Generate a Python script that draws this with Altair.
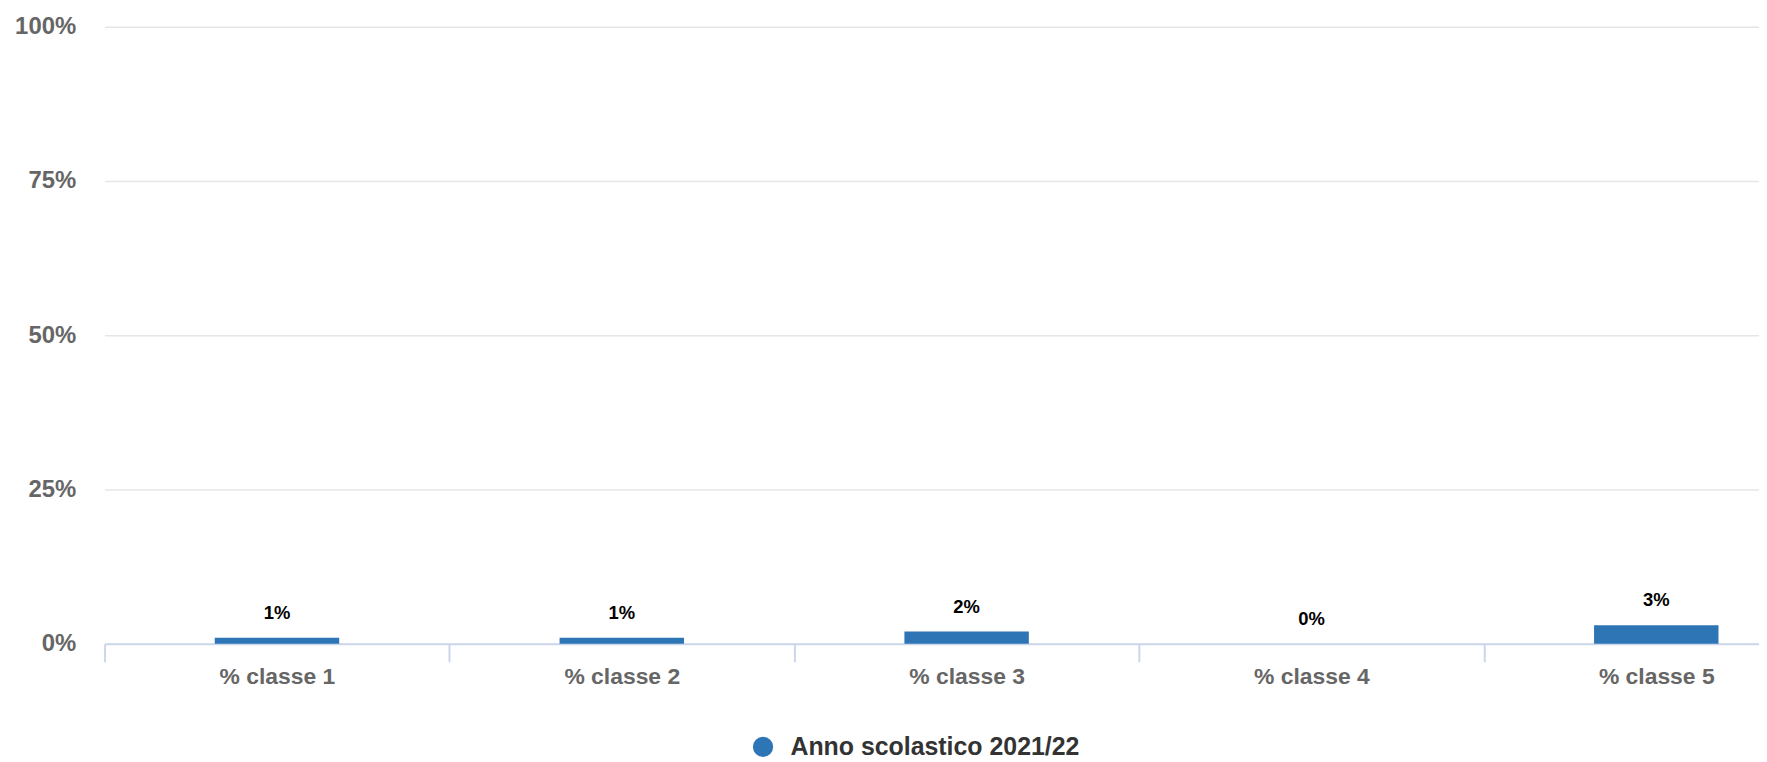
import altair as alt
import pandas as pd

categories = ["% classe 1", "% classe 2", "% classe 3", "% classe 4", "% classe 5"]
values = [1, 1, 2, 0, 3]
series_name = "Anno scolastico 2021/22"
y_ticks = [0, 25, 50, 75, 100]

df = pd.DataFrame({"cat": categories, "val": values, "serie": [series_name] * len(values)})

BLUE = "#2E75B6"
FONT = "Liberation Sans"

base = alt.Chart(df)

x_enc = alt.X(
    "cat:N",
    sort=categories,
    title=None,
    scale=alt.Scale(range=[0, 1732], paddingInner=0, paddingOuter=0),
    axis=alt.Axis(
        labelAngle=0,
        labelFont=FONT,
        labelFontSize=23,
        labelFontWeight="bold",
        labelColor="#666666",
        labelPadding=4,
        domainColor="#ccd6eb",
        domainWidth=2,
        tickColor="#ccd6eb",
        tickWidth=2,
        tickSize=18,
        tickBand="extent",
        grid=False,
    ),
)

y_enc = alt.Y(
    "val:Q",
    title=None,
    scale=alt.Scale(domain=[0, 100], nice=False),
    axis=alt.Axis(
        values=y_ticks,
        labelExpr="datum.value + '%'",
        labelFont=FONT,
        labelFontSize=24,
        labelFontWeight="bold",
        labelColor="#666666",
        labelPadding=29,
        domain=False,
        ticks=False,
        tickSize=0,
        grid=True,
        gridColor="#e6e6e6",
        gridWidth=1.5,
    ),
)

bars = base.mark_bar(width=125).encode(
    x=x_enc,
    y=y_enc,
    color=alt.Color(
        "serie:N",
        scale=alt.Scale(domain=[series_name], range=[BLUE]),
        legend=alt.Legend(
            title=None,
            orient="none",
            legendX=649,
            legendY=711,
            symbolType="circle",
            symbolSize=415,
            symbolStrokeWidth=0,
            labelFont=FONT,
            labelFontSize=25,
            labelFontWeight="bold",
            labelColor="#333333",
            labelOffset=15,
            labelLimit=600,
        ),
    ),
)

labels = base.transform_calculate(lab="datum.val + '%'").mark_text(
    font=FONT, fontSize=18.5, fontWeight="bold", color="#000000",
    baseline="alphabetic", dy=-19,
).encode(
    x=alt.X("cat:N", sort=categories),
    y=alt.Y("val:Q"),
    text="lab:N",
)

chart = (
    alt.layer(bars, labels)
    .properties(
        width=1662,
        height=620,
        autosize=alt.AutoSizeParams(type="none"),
        padding={"left": 97, "top": 17, "right": 0, "bottom": 115},
    )
    .configure_view(stroke=None)
)

chart.save("out.html", embed_options={"renderer": "svg", "actions": False})
